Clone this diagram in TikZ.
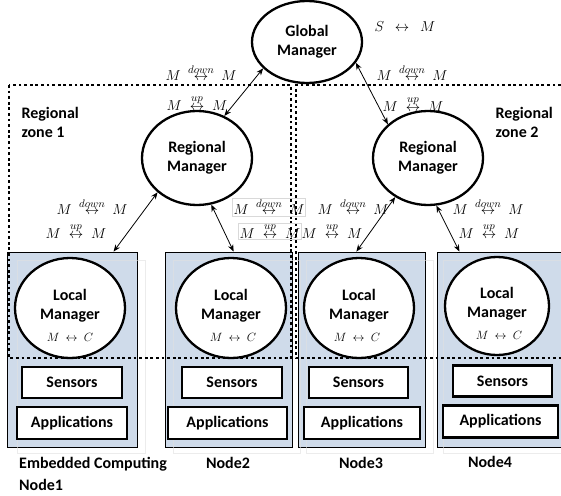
\documentclass[tikz,border=0pt]{standalone}
\usepackage{fontspec}
\setmainfont{Carlito}
\usetikzlibrary{arrows.meta,shapes.geometric}
\definecolor{nodeblue}{RGB}{207,219,234}
\newcommand{\mdown}{$M\ \stackrel{down}{\leftrightarrow}\ M$}
\newcommand{\mup}{$M\;\stackrel{up}{\leftrightarrow}\;M$}
\tikzset{
  btxt/.style={font=\fontsize{16}{19}\selectfont\bfseries, align=center},
  mtxt/.style={font=\fontsize{15}{18}\selectfont, inner sep=0pt},
  mgr/.style={ellipse, draw, line width=2.3pt, fill=white, inner sep=0pt, btxt},
  cnode/.style={draw, line width=0.8pt, fill=nodeblue, minimum width=127, minimum height=195, inner sep=0pt},
  ghost/.style={draw=black!12, line width=0.6pt, opacity=0.6},
  part/.style={draw, line width=2.8pt, fill=white, minimum height=31, inner sep=0pt, btxt},
  zone/.style={line width=2.8pt, dash pattern=on 2.8pt off 2.8pt},
  link/.style={{Stealth[length=7pt,width=5.5pt]}-{Stealth[length=7pt,width=5.5pt]}, line width=0.8pt},
  frame/.style={draw=black!15, line width=0.5pt, inner sep=1pt}
}
\begin{document}
\begin{tikzpicture}[x=1pt,y=-1pt]
	\useasboundingbox (0,0) rectangle (561,495);
	% computing nodes
	\node[cnode, minimum width=130] (n1) at (72,349.5) {};
	\node[cnode] (n2) at (228.5,349.5) {};
	\node[cnode] (n3) at (361.5,349.5) {};
	\node[cnode, minimum width=124] (n4) at (499,349.5) {};
	\draw[ghost] (17,260) rectangle (145,453) (173,260) rectangle (300,453)
		(306,260) rectangle (433,453) (443,260) rectangle (561,453);
	% regional zones
	\draw[zone] (9,85) rectangle (291,358);
	\draw[zone] (561,85) -- (296,85) -- (296,358) -- (561,358);
	\node[btxt, align=left, anchor=west] (z1) at (18,122.5) {Regional\\zone 1};
	\node[btxt, align=left, anchor=west] (z2) at (492,122.5) {Regional\\zone 2};
	% managers
	\node[mgr, minimum width=110, minimum height=82] (gm) at (307,42) {Global\\Manager};
	\node[mgr, minimum width=110, minimum height=94] (rm1) at (197,158) {Regional\\Manager};
	\node[mgr, minimum width=110, minimum height=94] (rm2) at (428,158) {Regional\\Manager};
	\node[mgr, minimum width=110, minimum height=100] (lm1) at (70,308) {};
	\node[mgr, minimum width=110, minimum height=100] (lm2) at (231,308) {};
	\node[mgr, minimum width=110, minimum height=100] (lm3) at (359,308) {};
	\node[mgr, minimum width=104, minimum height=98] (lm4) at (497,306) {};
	\node[btxt] (lt1) at (70,306) {Local\\Manager};
	\node[btxt] (lt2) at (231,306) {Local\\Manager};
	\node[btxt] (lt3) at (359,306) {Local\\Manager};
	\node[btxt] (lt4) at (497,304) {Local\\Manager};
	\node[mtxt, font=\fontsize{12.5}{14}\selectfont] (lc1) at (70,337) {$M\ \leftrightarrow\ C$};
	\node[mtxt, font=\fontsize{12.5}{14}\selectfont] (lc2) at (233,337) {$M\ \leftrightarrow\ C$};
	\node[mtxt, font=\fontsize{12.5}{14}\selectfont] (lc3) at (357,337) {$M\ \leftrightarrow\ C$};
	\node[mtxt, font=\fontsize{12.5}{14}\selectfont] (lc4) at (499,335) {$M\ \leftrightarrow\ C$};
	% sensors and applications
	\node[part, minimum width=100] (s1) at (72,382.5) {Sensors};
	\node[part, minimum width=100] (s2) at (232,382.5) {Sensors};
	\node[part, minimum width=99] (s3) at (358.5,382.5) {Sensors};
	\node[part, minimum width=99] (s4) at (502.5,381) {Sensors};
	\node[part, minimum width=110, minimum height=32] (a1) at (72,423) {Applications};
	\node[part, minimum width=119, minimum height=32] (a2) at (227.5,423) {Applications};
	\node[part, minimum width=116, minimum height=32] (a3) at (362,423) {Applications};
	\node[part, minimum width=115, minimum height=32] (a4) at (500.5,421.5) {Applications};
	% links
	\draw[link] (gm.211) -- (rm1.57);
	\draw[link] (gm.337) -- (rm2.140);
	\draw[link] (rm1.221) -- (n1.67);
	\draw[link] (rm1.287) -- (n2.87);
	\draw[link] (rm2.230) -- (n3.93);
	\draw[link] (rm2.280) -- (n4.112);
	% message labels
	\node[mtxt] (sm) at (405,27) {$S\ \ \leftrightarrow\ \ M$};
	\node[mtxt] (d0) at (201,73) {\mdown};
	\node[mtxt] (u0) at (197,103) {\mup};
	\node[mtxt] (d5) at (412,73) {\mdown};
	\node[mtxt] (u5) at (413,104) {\mup};
	\node[mtxt] (d1) at (92,207) {\mdown};
	\node[mtxt] (u1) at (76,231) {\mup};
	\node[mtxt, frame] (d2) at (269,207) {\mdown};
	\node[mtxt, frame] (u2) at (270,231) {\mup};
	\node[mtxt] (d3) at (353,207) {\mdown};
	\node[mtxt] (u3) at (332,231) {\mup};
	\node[mtxt] (d4) at (488,207) {\mdown};
	\node[mtxt] (u4) at (489,231) {\mup};
	% node names
	\node[btxt, anchor=west, inner sep=1pt] (e1) at (18,464) {Embedded Computing};
	\node[btxt, anchor=west, inner sep=1pt] (e1b) at (18,485) {Node1};
	\node[btxt] (e2) at (228,463) {Node2};
	\node[btxt] (e3) at (361,463) {Node3};
	\node[btxt] (e4) at (490,462) {Node4};
\end{tikzpicture}
\end{document}
